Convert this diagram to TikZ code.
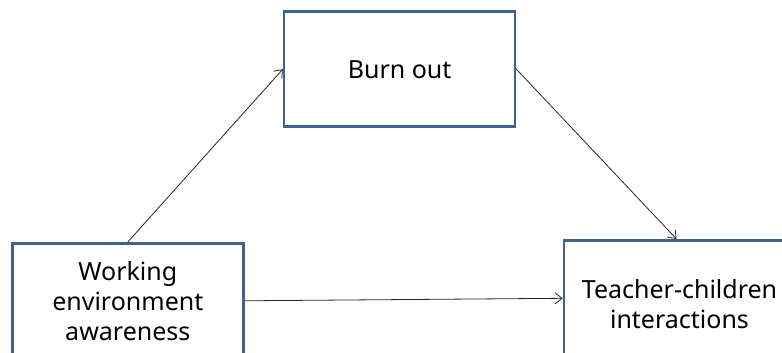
\documentclass[tikz,border=0pt]{standalone}
\usepackage{fontspec}
\setmainfont{Noto Sans}
\usetikzlibrary{arrows.meta}
\definecolor{boxblue}{HTML}{3E6190}
\tikzset{
  model/.style={draw=boxblue, line width=2.6pt, fill=white, minimum width=231pt,
    minimum height=115pt, align=center, inner sep=0pt,
    font=\fontsize{25}{30}\selectfont},
  path/.style={draw=black!85, line width=0.8pt, -{Straight Barb[length=7pt,width=11pt,line width=0.8pt]}}
}
\begin{document}
\begin{tikzpicture}[x=1pt, y=-1pt]
  \useasboundingbox (0,0) rectangle (782,353);
  % the three constructs of the mediation model
  \node[model] (burn) at (399.6,69.2) {Burn out};
  \node[model] (work) at (127.8,300.8) {Working\\environment\\awareness};
  \node[model, minimum height=127pt] (teach) at (679.5,303.8) {Teacher-children\\interactions};
  % paths
  \draw[path] (work.north) -- (burn.west);
  \draw[path] (burn.east) -- ([xshift=-3pt]teach.north);
  \draw[path] (work.east) -- ([yshift=5.5pt]teach.west);
\end{tikzpicture}
\end{document}
